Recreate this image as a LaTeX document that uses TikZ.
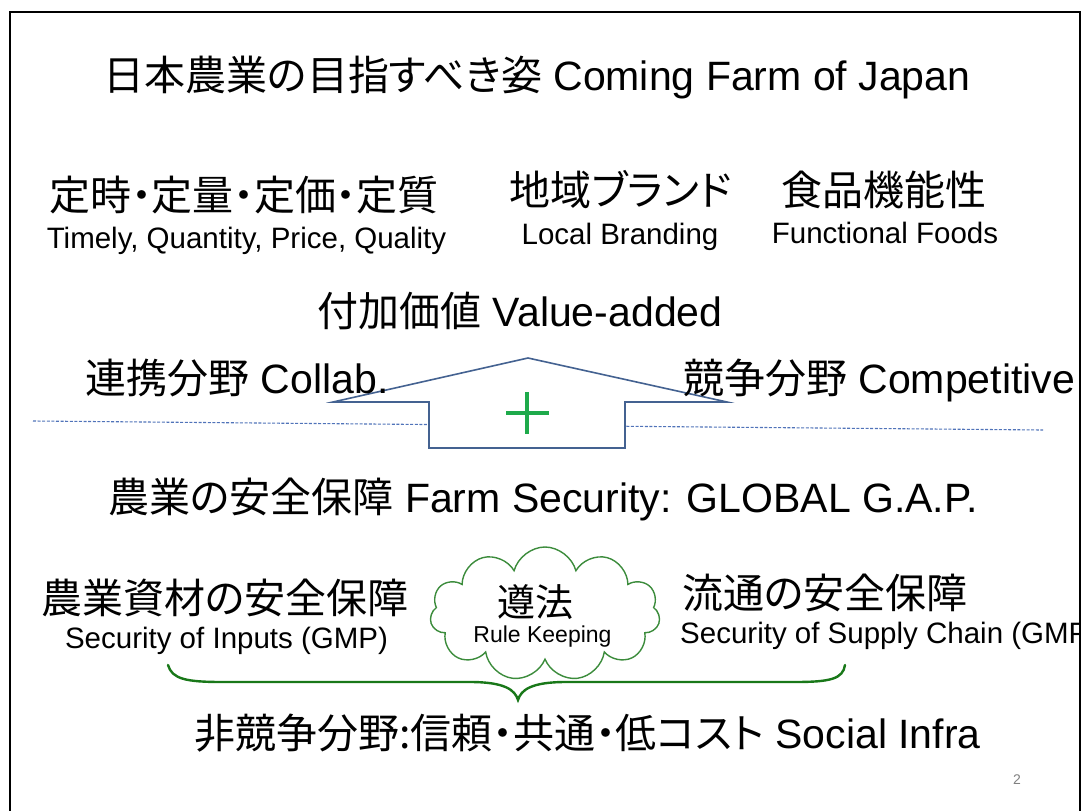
\documentclass[tikz,border=0pt]{standalone}
\usepackage{fontspec}
\setmainfont{Liberation Sans}
\newfontfamily\jp{Noto Sans CJK JP}[RawFeature=+palt]
\usetikzlibrary{shapes.symbols}
\definecolor{arrowblue}{RGB}{68,98,145}
\definecolor{dashblue}{RGB}{80,115,185}
\definecolor{plusgreen}{RGB}{30,170,75}
\definecolor{cloudgreen}{RGB}{60,140,60}
\definecolor{bracegreen}{RGB}{25,120,25}
\begin{document}
\begin{tikzpicture}[x=1pt,y=-1pt,
  big/.style={font=\fontsize{41}{41}\selectfont, inner sep=0pt, anchor=base},
  mid/.style={font=\fontsize{29.5}{30}\selectfont, inner sep=0pt, anchor=base},
  txt/.style={inner sep=0pt, anchor=base}]
\useasboundingbox (0,0) rectangle (1085,811);
\begin{scope}
\clip (0,0) rectangle (1079,811);
% dashed divider
\draw[dashblue, line width=1.1pt, dash pattern=on 3pt off 1.6pt] (33,421) -- (1043,430);
% arrow
\draw[arrowblue, line width=1.6pt, fill=white, line join=miter]
  (528,358) -- (727,402) -- (625,402) -- (625,448) -- (429,448) -- (429,402) -- (333,402) -- cycle;
\draw[plusgreen, line width=3.6pt] (506,413) -- (549,413) (527,392) -- (527,434);
% title
\node[big] (title) at (537,90) {{\jp 日本農業の目指すべき姿} Coming Farm of Japan};
% three features
\node[big] (teiji) at (244,210) {\jp 定時・定量・定価・定質};
\node[mid] (timely) at (246.5,248.5) {Timely, Quantity, Price, Quality};
\node[big] (chiiki) at (621,205) {\jp 地域ブランド};
\node[mid] (local) at (620,244) {Local Branding};
\node[big] (shokuhin) at (883.5,205) {\jp 食品機能性};
\node[mid] (func) at (885,243) {Functional Foods};
% value added
\node[big] (value) at (520,326) {{\jp 付加価値} Value-added};
\node[big] (collab) at (237,393) {{\jp 連携分野} Collab.};
\node[big, anchor=base west] (compet) at (683,393) {{\jp 競争分野} Competitive};
% farm security
\node[big] (security) at (543,512) {{\jp 農業の安全保障} Farm Security: GLOBAL G.A.P.};
\node[big] (inputsj) at (225,613) {\jp 農業資材の安全保障};
\node[mid] (inputs) at (226.5,648.5) {Security of Inputs (GMP)};
\node[big] (supplyj) at (825,608) {\jp 流通の安全保障};
\node[mid, anchor=base west] (supply) at (680,643.5) {Security of Supply Chain (GMP)};
% cloud
\node[cloud, cloud puffs=11, aspect=1.7, draw=cloudgreen, line width=1.4pt, fill=white,
  minimum width=230pt, minimum height=134pt, inner sep=0pt] (cloud) at (545,614) {};
\node[txt, font=\fontsize{38}{38}\selectfont] (junpo) at (535,616) {\jp 遵法};
\node[txt, font=\fontsize{23}{23}\selectfont] (rule) at (542.5,642) {Rule Keeping};
% brace
\draw[bracegreen, line width=2.4pt, line cap=round]
  (168,665) .. controls (172,679) and (186,682) .. (222,682) -- (470,682)
  .. controls (505,682) and (515,690) .. (518,700)
  .. controls (521,690) and (531,682) .. (566,682) -- (795,682)
  .. controls (830,682) and (843,679) .. (845,665);
\node[big] (infra) at (587.5,748) {{\jp 非競争分野:信頼・共通・低コスト} Social Infra};
\node[txt, font=\fontsize{14}{14}\selectfont, text=gray] (page) at (1017,784) {2};
\end{scope}
% slide frame
\draw[line width=2pt] (10,811) -- (10,12) -- (1080,12) -- (1080,811);
\end{tikzpicture}
\end{document}
